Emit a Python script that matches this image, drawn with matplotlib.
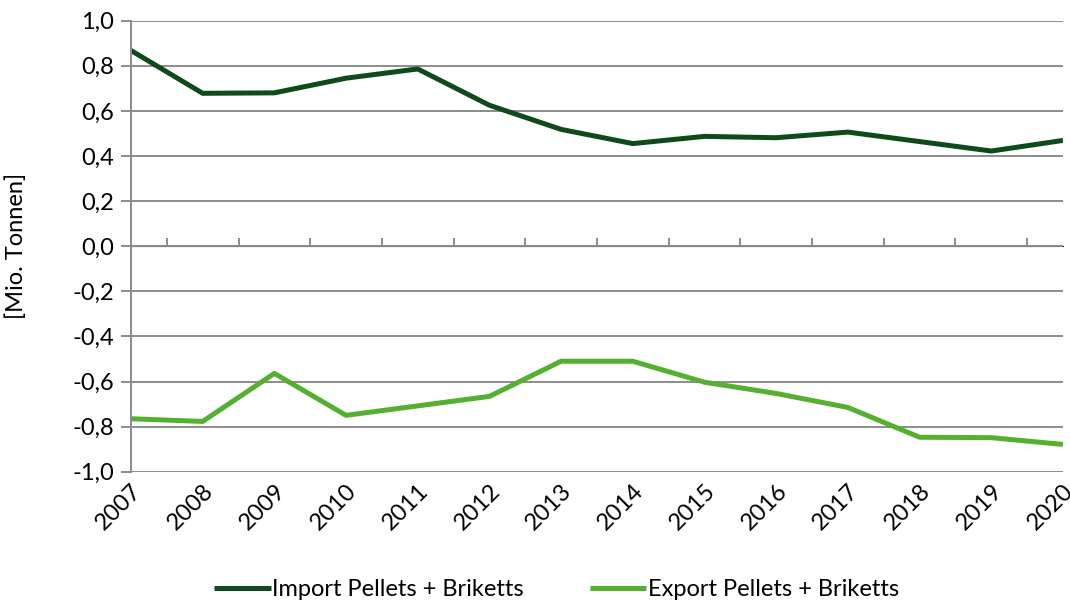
import numpy as np
import matplotlib.pyplot as plt
from matplotlib.ticker import FuncFormatter

plt.rcParams['font.family'] = ['Lato', 'DejaVu Sans']

# Data (Mio. Tonnen)
years = ['2007', '2008', '2009', '2010', '2011', '2012', '2013',
         '2014', '2015', '2016', '2017', '2018', '2019', '2020']
import_vals = [0.868, 0.678, 0.680, 0.745, 0.786, 0.625, 0.518,
               0.455, 0.487, 0.481, 0.506, 0.464, 0.422, 0.469]
export_vals = [-0.765, -0.777, -0.564, -0.750, -0.708, -0.666, -0.510,
               -0.510, -0.603, -0.653, -0.715, -0.847, -0.849, -0.879]

grid_col = '#8c8c8c'
fs = 17

fig = plt.figure(figsize=(10.7, 6.03), dpi=100)
ax = fig.add_axes([0.1224, 0.2177, 0.871, 0.748])

x = np.arange(len(years))
ax.plot(x, import_vals, color='#0f4a1b', lw=3.6, solid_capstyle='butt',
        label='Import Pellets + Briketts')
ax.plot(x, export_vals, color='#55b031', lw=3.6, solid_capstyle='butt',
        label='Export Pellets + Briketts')

ax.set_xlim(0, len(years) - 1)
ax.set_ylim(-1.0, 1.0)
ax.set_yticks(np.arange(-1.0, 1.01, 0.2))
ax.yaxis.set_major_formatter(FuncFormatter(lambda v, p: f'{v:.1f}'.replace('.', ',').replace('-0,0', '0,0')))
ax.yaxis.grid(True, color=grid_col, lw=1.4)
ax.set_axisbelow(True)

for s in ['top', 'right', 'bottom']:
    ax.spines[s].set_visible(False)
ax.spines['left'].set_color(grid_col)
ax.spines['left'].set_linewidth(1.4)
ax.tick_params(axis='y', colors=grid_col, length=7, width=1.4, labelsize=fs,
               labelcolor='black', pad=5)

ax.set_xticks(x)
ax.set_xticklabels(years, rotation=45, ha='right', rotation_mode='anchor', fontsize=fs)
ax.tick_params(axis='x', length=0, pad=6)

# category axis at zero with tick marks between categories
zero_ax = ax.secondary_xaxis(0.5)
zero_ax.set_xticks(x[:-1] + 0.5)
zero_ax.set_xticklabels([])
zero_ax.spines['bottom'].set_color(grid_col)
zero_ax.spines['bottom'].set_linewidth(1.4)
zero_ax.tick_params(axis='x', colors=grid_col, length=6, width=1.4, direction='out')

ax.set_ylabel('[Mio. Tonnen]', fontsize=fs)
ax.yaxis.set_label_coords(-0.112, 0.5)

fig.legend(loc='center', bbox_to_anchor=(0.52, 0.022), ncol=2, frameon=False,
           fontsize=fs, handlelength=2.4, handletextpad=0.05, columnspacing=2.8)

fig.savefig('out.png', dpi=100)
